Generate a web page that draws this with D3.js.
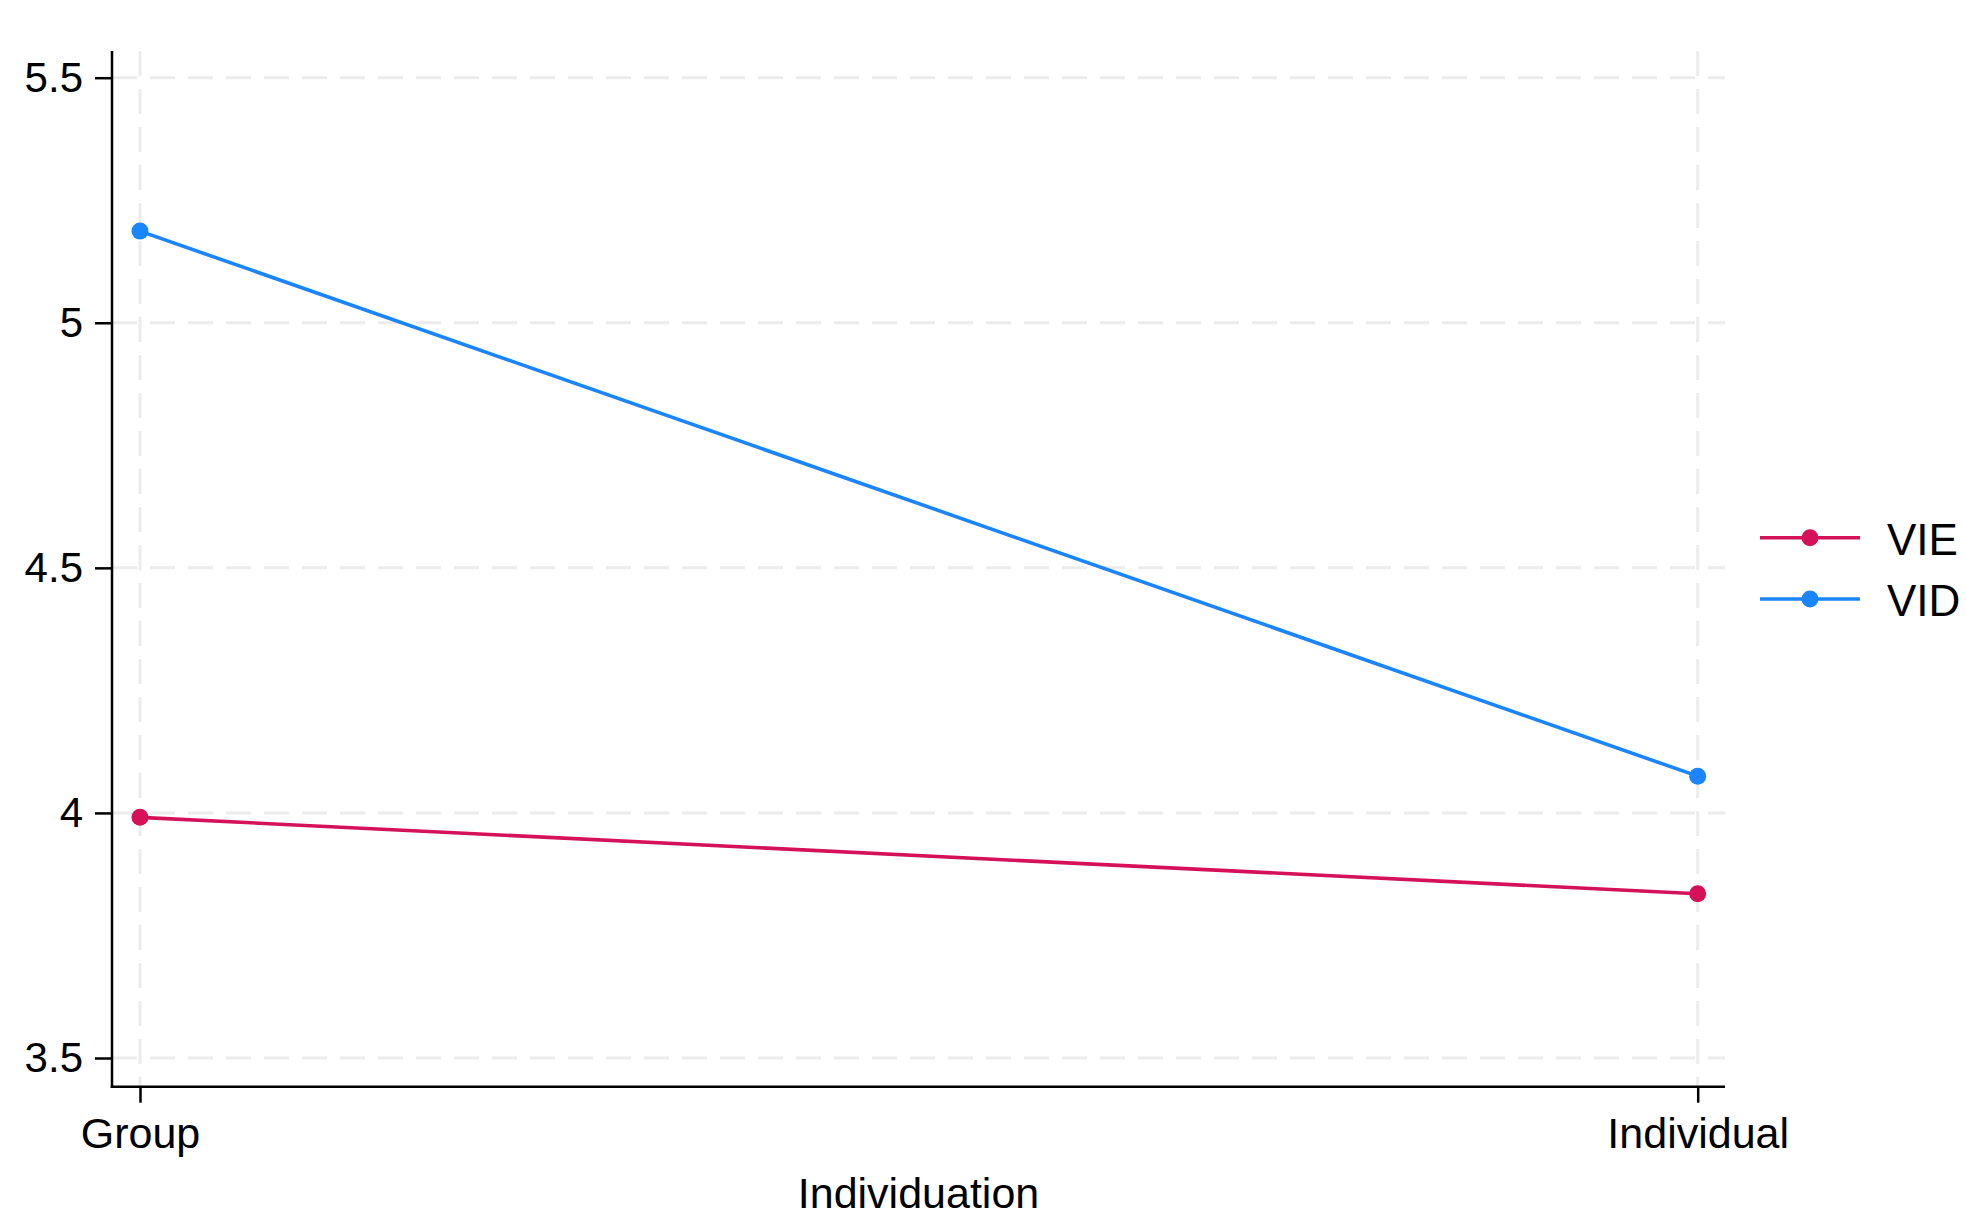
<!DOCTYPE html>
<html>
<head>
<meta charset="utf-8">
<script src="https://cdn.jsdelivr.net/npm/d3@7"></script>
<style>
  body { margin: 0; background: #fff; }
  svg text { font-family: 'Liberation Sans', Arial, sans-serif; fill: #000; }
</style>
</head>
<body>
<svg id="chart" width="1966" height="1223"></svg>
<script>
// categories on the x axis
const CATEGORIES = ['Group', 'Individual'];
// series names and their values per category
const SERIES = ['VIE', 'VID'];
const VIE_VALUES = [3.991, 3.835];
const VID_VALUES = [5.187, 4.075];
// y tick labels
const Y_TICKS = [3.5, 4, 4.5, 5, 5.5];

const COLORS = new Map([
    ['VIE', '#d41159'],
    ['VID', '#1a85ff'],
]);

const SVG = d3.select('#chart');

// plot box edges
const LEFT = 112, RIGHT = 1725, TOP = 51, BOTTOM = 1086.7;

// y scale: 5.5 sits at 77.7, 3.5 at 1058
const Y_SCALE = d3.scaleLinear()
    .domain([3.5, 5.5])
    .range([1058, 77.7]);

const X_SCALE = d3.scalePoint()
    .domain(CATEGORIES)
    .range([140, 1697.7]);

// gridlines
const GRID = SVG.append('g').attr('id', 'grid');
GRID.selectAll('line.h')
    .data(Y_TICKS)
    .join('line')
    .attr('class', 'h')
    .attr('x1', LEFT)
    .attr('x2', RIGHT)
    .attr('y1', d => Y_SCALE(d))
    .attr('y2', d => Y_SCALE(d))
    .style('stroke', '#ececec')
    .style('stroke-width', 3)
    .style('stroke-dasharray', '25 13');

GRID.selectAll('line.v')
    .data(CATEGORIES)
    .join('line')
    .attr('class', 'v')
    .attr('x1', d => X_SCALE(d))
    .attr('x2', d => X_SCALE(d))
    .attr('y1', TOP)
    .attr('y2', BOTTOM)
    .style('stroke', '#ececec')
    .style('stroke-width', 3)
    .style('stroke-dasharray', '25 13');

// y axis
const Y_AXIS = d3.axisLeft(Y_SCALE)
    .tickValues(Y_TICKS)
    .tickFormat(d => d)
    .tickSize(17)
    .tickPadding(12);
const Y_AXIS_G = SVG.append('g')
    .attr('id', 'yAxis')
    .attr('transform', `translate(${LEFT}, 0)`)
    .call(Y_AXIS);
Y_AXIS_G.select('.domain').remove();
Y_AXIS_G.selectAll('line').style('stroke', '#000').style('stroke-width', 2.5);
Y_AXIS_G.selectAll('text').style('font-size', '42px').attr('fill', '#000');

// x axis
const X_AXIS = d3.axisBottom(X_SCALE)
    .tickSize(16);
const X_AXIS_G = SVG.append('g')
    .attr('id', 'xAxis')
    .attr('transform', `translate(0, ${BOTTOM})`)
    .call(X_AXIS);
X_AXIS_G.select('.domain').remove();
X_AXIS_G.selectAll('line').style('stroke', '#000').style('stroke-width', 2.5);
X_AXIS_G.selectAll('text')
    .attr('y', 61.3)
    .attr('dy', 0)
    .attr('fill', '#000')
    .style('font-size', '43px');

// axis lines
SVG.append('line')
    .attr('x1', LEFT).attr('x2', LEFT)
    .attr('y1', TOP).attr('y2', BOTTOM + 1.25)
    .style('stroke', '#000').style('stroke-width', 2.5);
SVG.append('line')
    .attr('x1', LEFT - 1.25).attr('x2', RIGHT)
    .attr('y1', BOTTOM).attr('y2', BOTTOM)
    .style('stroke', '#000').style('stroke-width', 2.5);

// x axis title
SVG.append('text')
    .attr('x', (LEFT + RIGHT) / 2)
    .attr('y', 1208.3)
    .attr('text-anchor', 'middle')
    .style('font-size', '43px')
    .text('Individuation');

// lines and markers
const SERIES_DATA = [
    { name: 'VIE', values: VIE_VALUES },
    { name: 'VID', values: VID_VALUES },
];

const LINE = d3.line()
    .x((d, i) => X_SCALE(CATEGORIES[i]))
    .y(d => Y_SCALE(d));

SERIES_DATA.forEach((s, index) => {
    const G = SVG.append('g').attr('id', `series${index}`);
    G.append('path')
        .datum(s.values)
        .attr('d', LINE)
        .style('fill', 'none')
        .style('stroke', COLORS.get(s.name))
        .style('stroke-width', 3.6);
    G.selectAll('circle')
        .data(s.values)
        .join('circle')
        .attr('cx', (d, i) => X_SCALE(CATEGORIES[i]))
        .attr('cy', d => Y_SCALE(d))
        .attr('r', 8.5)
        .style('fill', COLORS.get(s.name));
});

// legend
const LEGEND = SVG.append('g').attr('id', 'legend');
SERIES.forEach((name, i) => {
    const y = 537.7 + i * 61.3;
    LEGEND.append('line')
        .attr('x1', 1760).attr('x2', 1860)
        .attr('y1', y).attr('y2', y)
        .style('stroke', COLORS.get(name))
        .style('stroke-width', 3.6);
    LEGEND.append('circle')
        .attr('cx', 1810).attr('cy', y).attr('r', 8.5)
        .style('fill', COLORS.get(name));
    LEGEND.append('text')
        .attr('x', 1887)
        .attr('y', y + 17.3)
        .style('font-size', '44px')
        .text(name);
});
</script>
</body>
</html>
